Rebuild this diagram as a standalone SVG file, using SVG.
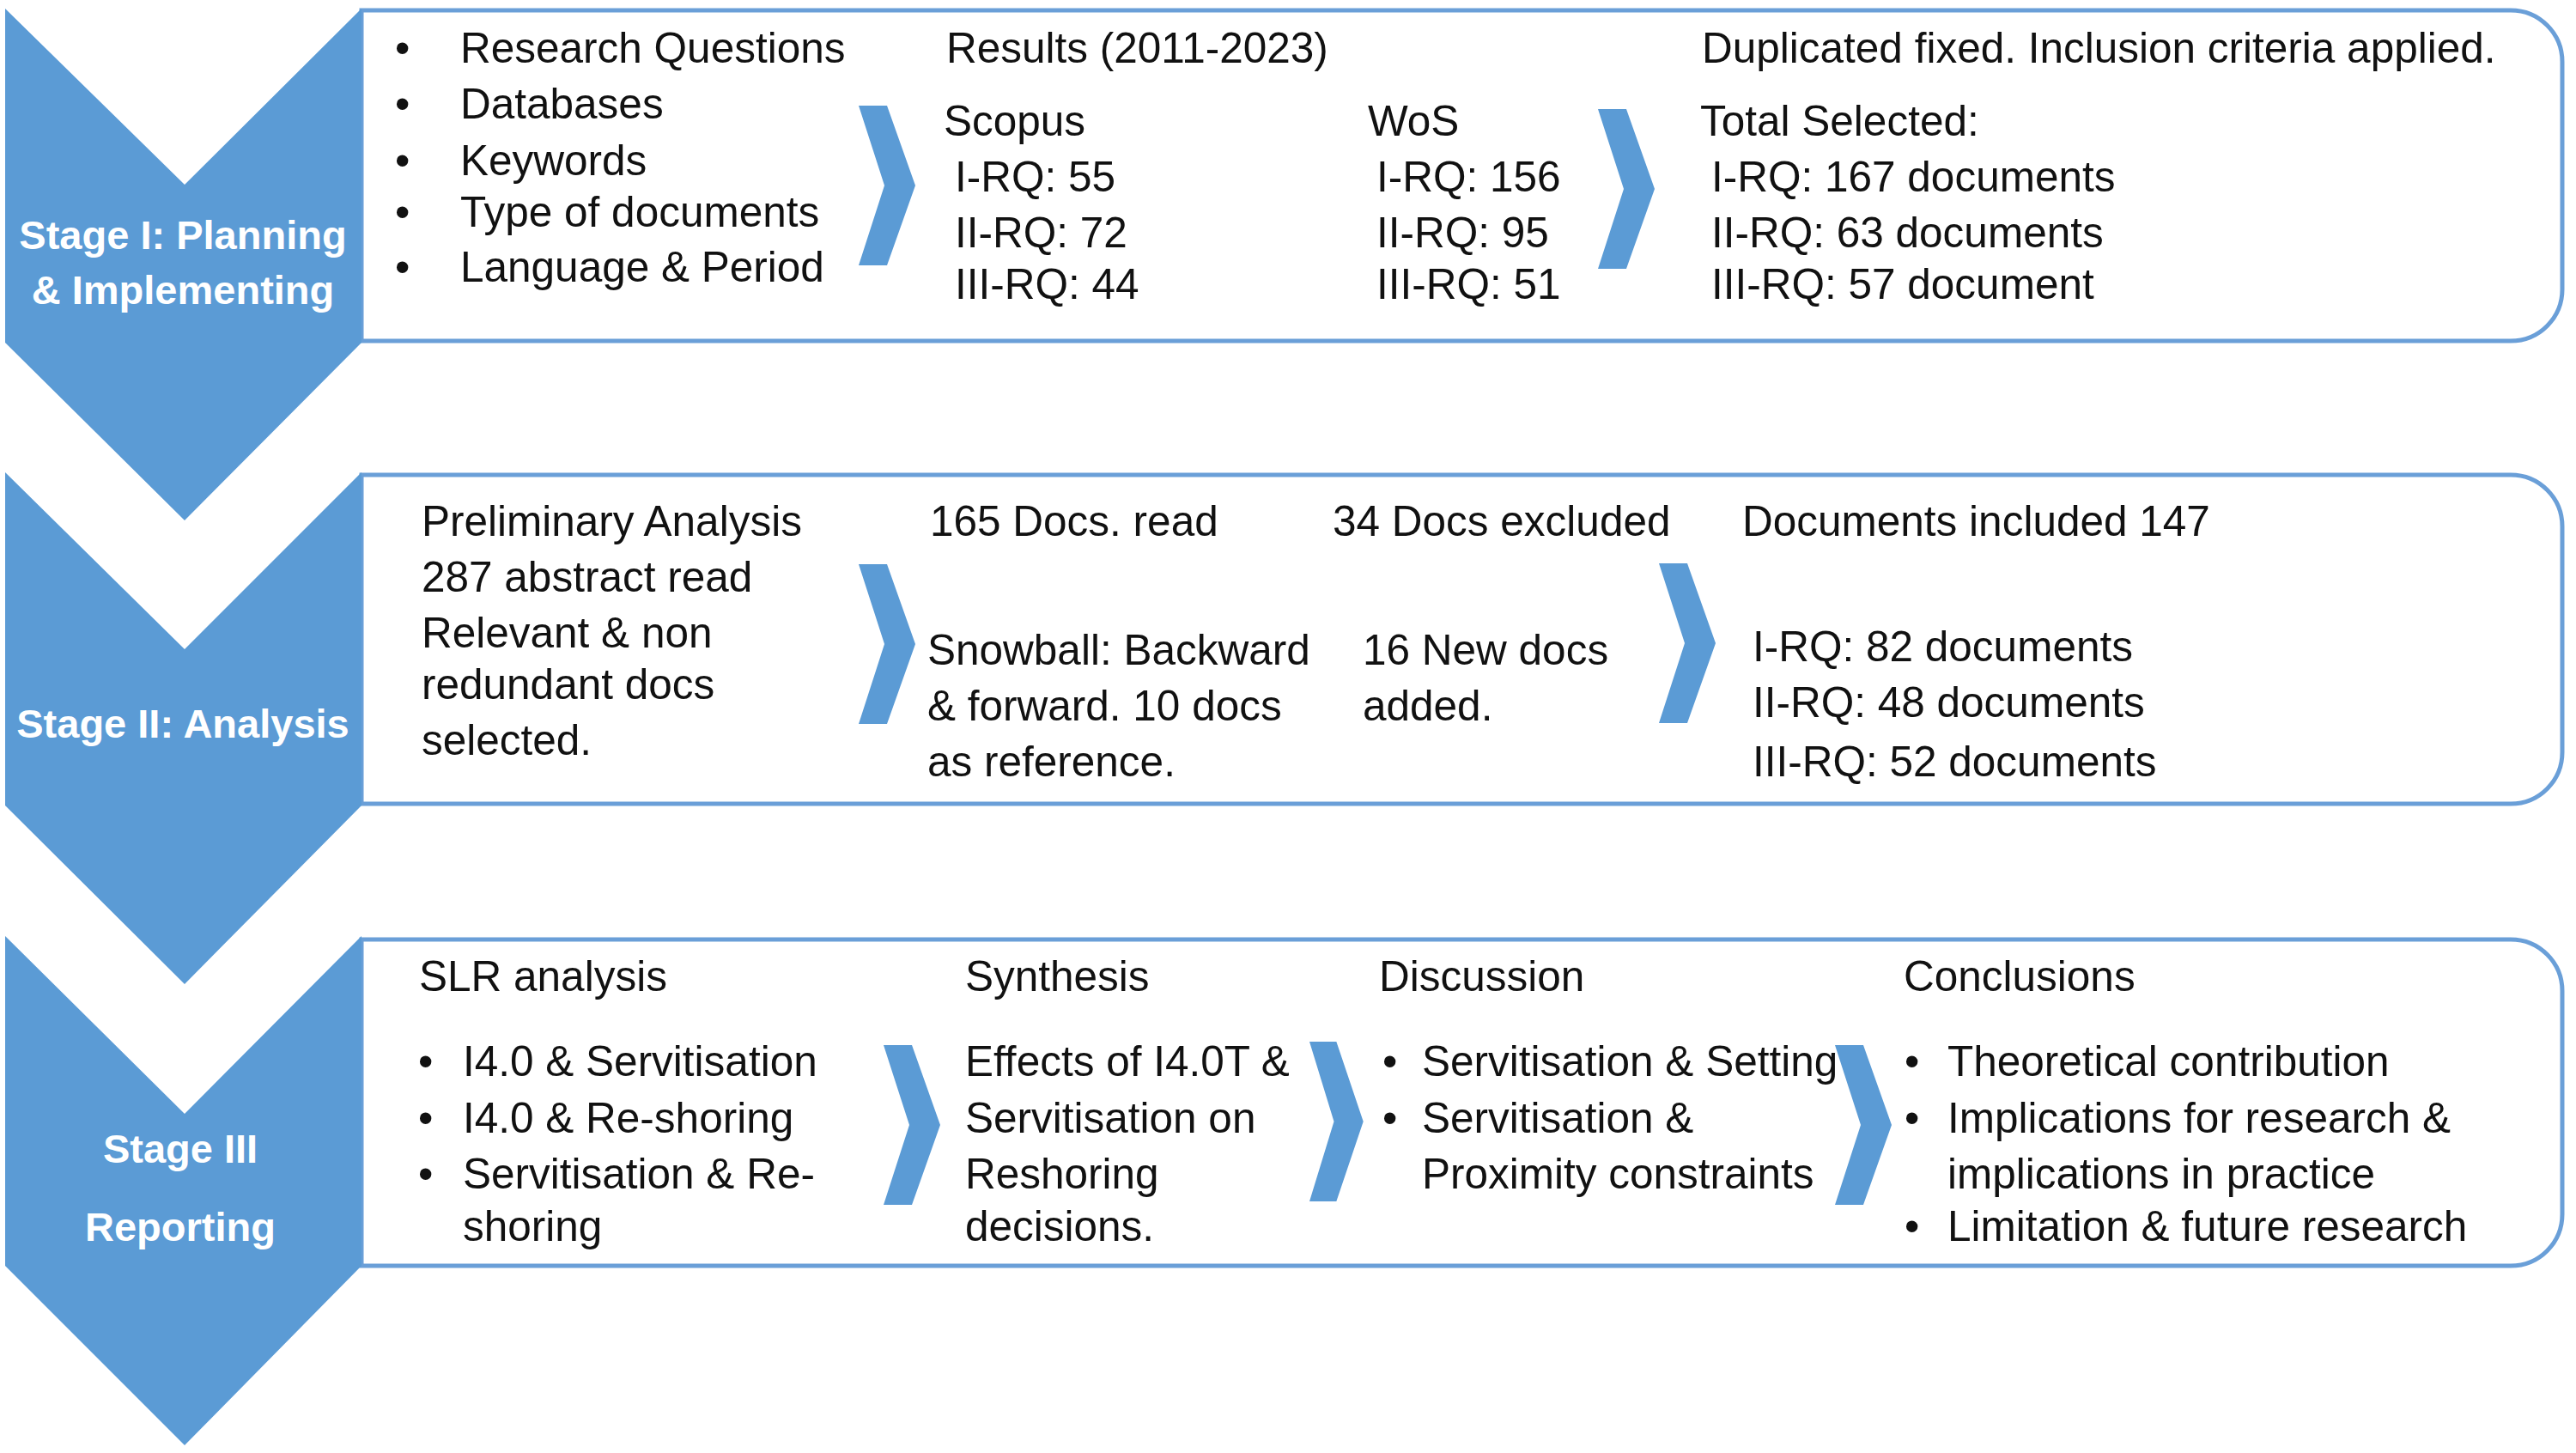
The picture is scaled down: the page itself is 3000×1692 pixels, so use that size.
<svg xmlns="http://www.w3.org/2000/svg" width="3000" height="1692" viewBox="0 0 3000 1692">
<defs>
<style>
.t{font-family:"Liberation Sans",Arial,sans-serif;font-size:49.5px;fill:#111}
.s{font-family:"Liberation Sans",Arial,sans-serif;font-size:47px;font-weight:bold;fill:#fff;text-anchor:middle}
.box{fill:#fff;stroke:#6a9fd8;stroke-width:5}
.chev{fill:#5b9bd5}
.arr{fill:#5b9bd5}
</style>
<path id="arrow" d="M0,0 H33 L66,93 L33,186 H0 L30,93 Z"/>
</defs>
<rect width="3000" height="1692" fill="#fff"/>

<g id="box1">
<path class="box" d="M421,12 H2924 A60,60 0 0 1 2984,72 V337 A60,60 0 0 1 2924,397 H421 Z"/>
<text class="t" x="460" y="73">•</text>
<text class="t" x="460" y="138">•</text>
<text class="t" x="460" y="204">•</text>
<text class="t" x="460" y="264">•</text>
<text class="t" x="460" y="328">•</text>
<text class="t" x="536" y="73">Research Questions</text>
<text class="t" x="536" y="138">Databases</text>
<text class="t" x="536" y="204">Keywords</text>
<text class="t" x="536" y="264">Type of documents</text>
<text class="t" x="536" y="328">Language &amp; Period</text>
<text class="t" x="1102" y="73">Results (2011-2023)</text>
<text class="t" x="1099" y="158">Scopus</text>
<text class="t" x="1112" y="223">I-RQ: 55</text>
<text class="t" x="1112" y="288">II-RQ: 72</text>
<text class="t" x="1112" y="348">III-RQ: 44</text>
<text class="t" x="1593" y="158">WoS</text>
<text class="t" x="1603" y="223">I-RQ: 156</text>
<text class="t" x="1603" y="288">II-RQ: 95</text>
<text class="t" x="1603" y="348">III-RQ: 51</text>
<text class="t" x="1982" y="73">Duplicated fixed. Inclusion criteria applied.</text>
<text class="t" x="1980" y="158">Total Selected:</text>
<text class="t" x="1993" y="223">I-RQ: 167 documents</text>
<text class="t" x="1993" y="288">II-RQ: 63 documents</text>
<text class="t" x="1993" y="348">III-RQ: 57 document</text>
</g>

<g id="box2">
<path class="box" d="M421,553 H2924 A60,60 0 0 1 2984,613 V876 A60,60 0 0 1 2924,936 H421 Z"/>
<text class="t" x="491" y="624">Preliminary Analysis</text>
<text class="t" x="491" y="689">287 abstract read</text>
<text class="t" x="491" y="754">Relevant &amp; non</text>
<text class="t" x="491" y="814">redundant docs</text>
<text class="t" x="491" y="879">selected.</text>
<text class="t" x="1083" y="624">165 Docs. read</text>
<text class="t" x="1552" y="624">34 Docs excluded</text>
<text class="t" x="1080" y="774">Snowball: Backward</text>
<text class="t" x="1080" y="839">&amp; forward. 10 docs</text>
<text class="t" x="1080" y="904">as reference.</text>
<text class="t" x="1587" y="774">16 New docs</text>
<text class="t" x="1587" y="839">added.</text>
<text class="t" x="2029" y="624">Documents included 147</text>
<text class="t" x="2041" y="770">I-RQ: 82 documents</text>
<text class="t" x="2041" y="835">II-RQ: 48 documents</text>
<text class="t" x="2041" y="904">III-RQ: 52 documents</text>
</g>

<g id="box3">
<path class="box" d="M421,1094 H2924 A60,60 0 0 1 2984,1154 V1414 A60,60 0 0 1 2924,1474 H421 Z"/>
<text class="t" x="488" y="1154">SLR analysis</text>
<text class="t" x="487" y="1253">•</text>
<text class="t" x="487" y="1319">•</text>
<text class="t" x="487" y="1384">•</text>
<text class="t" x="539" y="1253">I4.0 &amp; Servitisation</text>
<text class="t" x="539" y="1319">I4.0 &amp; Re-shoring</text>
<text class="t" x="539" y="1384">Servitisation &amp; Re-</text>
<text class="t" x="539" y="1445">shoring</text>
<text class="t" x="1124" y="1154">Synthesis</text>
<text class="t" x="1124" y="1253">Effects of I4.0T &amp;</text>
<text class="t" x="1124" y="1319">Servitisation on</text>
<text class="t" x="1124" y="1384">Reshoring</text>
<text class="t" x="1124" y="1445">decisions.</text>
<text class="t" x="1606" y="1154">Discussion</text>
<text class="t" x="1610" y="1253">•</text>
<text class="t" x="1610" y="1319">•</text>
<text class="t" x="1656" y="1253">Servitisation &amp; Setting</text>
<text class="t" x="1656" y="1319">Servitisation &amp;</text>
<text class="t" x="1656" y="1384">Proximity constraints</text>
<text class="t" x="2217" y="1154">Conclusions</text>
<text class="t" x="2218" y="1253">•</text>
<text class="t" x="2218" y="1319">•</text>
<text class="t" x="2218" y="1445">•</text>
<text class="t" x="2268" y="1253">Theoretical contribution</text>
<text class="t" x="2268" y="1319">Implications for research &amp;</text>
<text class="t" x="2268" y="1384">implications in practice</text>
<text class="t" x="2268" y="1445">Limitation &amp; future research</text>
</g>

<g id="stage1">
<polygon class="chev" points="6,10 215,215 421,10 421,399 215,606 6,399"/>
<text class="s" x="213" y="290">Stage I: Planning</text>
<text class="s" x="213" y="354">&amp; Implementing</text>
</g>
<g id="stage2">
<polygon class="chev" points="6,550 215,756 421,550 421,938 215,1146 6,938"/>
<text class="s" x="213" y="859">Stage II: Analysis</text>
</g>
<g id="stage3">
<polygon class="chev" points="6,1090 215,1297 421,1090 421,1474 215,1683 6,1474"/>
<text class="s" x="210" y="1354">Stage III</text>
<text class="s" x="210" y="1445">Reporting</text>
</g>

<g id="connectors">
<use href="#arrow" class="arr" transform="translate(1000,123)"/>
<use href="#arrow" class="arr" transform="translate(1861,127)"/>
<use href="#arrow" class="arr" transform="translate(1000,657)"/>
<use href="#arrow" class="arr" transform="translate(1932,656)"/>
<use href="#arrow" class="arr" transform="translate(1029,1217)"/>
<use href="#arrow" class="arr" transform="translate(1525,1213) scale(0.95,1)"/>
<use href="#arrow" class="arr" transform="translate(2137,1217)"/>
</g>
</svg>
